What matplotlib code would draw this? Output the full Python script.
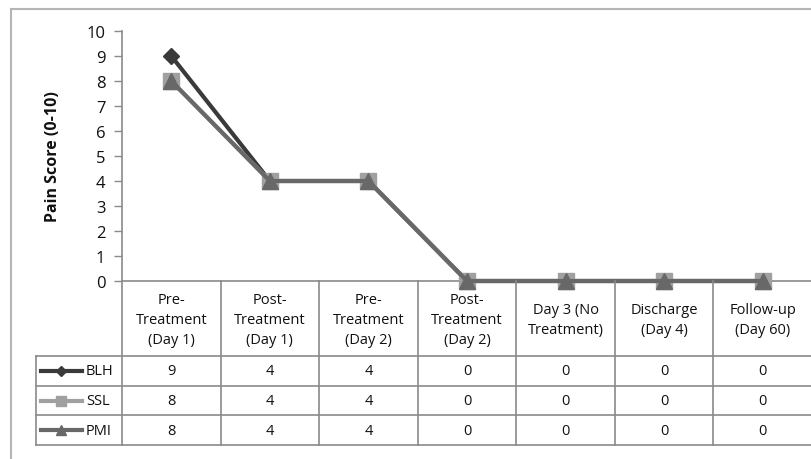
import matplotlib
matplotlib.use("Agg")
import matplotlib.pyplot as plt
from matplotlib.patches import Rectangle
from matplotlib.lines import Line2D

categories = ["Pre-\nTreatment\n(Day 1)", "Post-\nTreatment\n(Day 1)", "Pre-\nTreatment\n(Day 2)",
              "Post-\nTreatment\n(Day 2)", "Day 3 (No\nTreatment)", "Discharge\n(Day 4)",
              "Follow-up\n(Day 60)"]
series_names = ["BLH", "SSL", "PMI"]
blh = [9, 4, 4, 0, 0, 0, 0]
ssl = [8, 4, 4, 0, 0, 0, 0]
pmi = [8, 4, 4, 0, 0, 0, 0]
yticks = list(range(0, 11))

colors = ["#3a3a3a", "#a0a0a0", "#686868"]
markers = ["D", "s", "^"]
msizes = [8.5, 11, 11]
series = [blh, ssl, pmi]

plt.rcParams['font.family'] = ['Open Sans', 'DejaVu Sans']

W, H = 812, 460
fig = plt.figure(figsize=(W / 100, H / 100), dpi=100)

def fx(px):
    return px / W

def fy(py):
    return 1 - py / H

# outer frame
fig.patches.append(Rectangle((fx(11), fy(470)), fx(820) - fx(11), fy(10) - fy(470),
                             transform=fig.transFigure, fill=False, edgecolor="#b5b5b5", lw=1.5))

x_left, x_right = 122, 812
y_top, y_bot = 32, 282
ax = fig.add_axes([fx(x_left), fy(y_bot), fx(x_right) - fx(x_left), fy(y_top) - fy(y_bot)])
n = len(categories)
xs = list(range(n))
for vals, c, m, ms, name in zip(series, colors, markers, msizes, series_names):
    ax.plot(xs, vals, color=c, lw=3, marker=m, markersize=ms, markeredgecolor=c,
            label=name, clip_on=False, zorder=3)
ax.set_xlim(-0.5, n - 0.5)
ax.set_ylim(0, 10)
ax.set_yticks(yticks)
ax.set_xticks([])
for s in ["top", "right"]:
    ax.spines[s].set_visible(False)
ax.spines["left"].set_color("#8a8a8a")
ax.spines["bottom"].set_color("#8a8a8a")
ax.spines["left"].set_linewidth(1.2)
ax.spines["bottom"].set_linewidth(1.2)
ax.tick_params(axis="y", length=6, width=1, color="#8a8a8a", labelsize=12, pad=6,
               labelcolor="#111111")
ax.set_ylabel("Pain Score (0-10)", fontsize=11.5, fontweight="bold", labelpad=18, color="#111111")
ax.patch.set_alpha(0)

# data table
t_left, t_top, t_bot = 36, 282, 446
cell_w = (x_right - x_left) / n
tab = fig.add_axes([fx(t_left), fy(t_bot), fx(x_right) - fx(t_left), fy(t_top) - fy(t_bot)])
tab.set_xlim(t_left, x_right)
tab.set_ylim(t_bot, t_top)
tab.axis("off")
lc = "#8a8a8a"
head_bot = 357
row_h = (t_bot - head_bot) / 3
# vertical lines
for i in range(n):
    xv = x_left + i * cell_w
    tab.plot([xv, xv], [t_top, t_bot], color=lc, lw=1.2, clip_on=False)
tab.plot([t_left, t_left], [head_bot, t_bot], color=lc, lw=1.2, clip_on=False)
# horizontal lines
for j in range(4):
    yv = head_bot + j * row_h
    tab.plot([t_left, x_right], [yv, yv], color=lc, lw=1.2, clip_on=False)
# header text
for i, cat in enumerate(categories):
    tab.text(x_left + (i + 0.5) * cell_w, (t_top + head_bot) / 2 + 1, cat, ha="center", va="center",
             fontsize=10.5, linespacing=1.45, color="#111111")
# rows
for j, (vals, c, m, ms, name) in enumerate(zip(series, colors, markers, msizes, series_names)):
    yc = head_bot + (j + 0.5) * row_h
    tab.add_line(Line2D([41, 82], [yc, yc], color=c, lw=3))
    tab.add_line(Line2D([61.5], [yc], color=c, marker=m, markersize=ms * 0.65, markeredgecolor=c))
    tab.text(86, yc, name, ha="left", va="center", fontsize=10.5, color="#111111")
    for i, v in enumerate(vals):
        tab.text(x_left + (i + 0.5) * cell_w, yc, str(v), ha="center", va="center",
                 fontsize=10.5, color="#111111")

fig.savefig("out.png", dpi=100, facecolor="white")
